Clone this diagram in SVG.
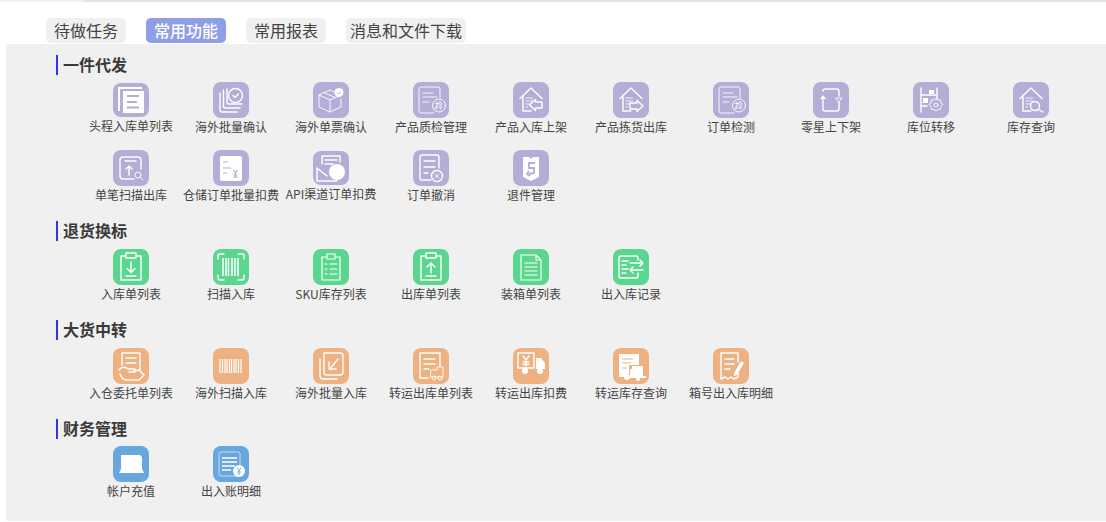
<svg xmlns="http://www.w3.org/2000/svg" width="1106" height="522" viewBox="0 0 1106 522">
<style>
text{font-family:"Noto Sans CJK SC","Noto Sans",sans-serif;fill:#444}
.l{font-size:12px;text-anchor:middle}
.h{font-size:16px;font-weight:700;fill:#3a3a3a}
.tb{font-size:16px;text-anchor:middle}
.tab{fill:#f0f0f0}
.bar{fill:#3333ee}
.pu{fill:#b2aed6}.gr{fill:#5bd68f}.or{fill:#eeb182}.bl{fill:#68a7de}
.s{fill:none;stroke:#fff;stroke-width:1.4;stroke-linecap:round;stroke-linejoin:round}
.t{stroke-width:.9}
.f{fill:#fff}
</style>
<defs>
<rect id="b" width="36" height="36" rx="8"/>
<g id="house" class="s"><path d="M7 16.500L18 6L29 16.500M10 14V29H18"/><path class="t" d="M13 16h1.500M15.500 16h1.500M18 16h1.500M13 19h1.500M15.500 19h1.500M18 19h1.500M13 22h1.500M15.500 22h1.500M13 25h1.500"/></g>
<g id="jian" class="s t"><circle cx="26" cy="23.500" r="6.500"/><path d="M22.500 21.500h3M24 20v7M23 25l-1 2M27 20l-1.500 2M27 20l2 2M26.500 23h2M26 25h3M27 26.500h1"/></g>
</defs>
<rect x="0" y="0" width="1106" height="2" fill="#e4e4e4"/>
<rect x="0" y="0" width="83" height="2" fill="#f0f0f0"/>
<rect x="6" y="44" width="1100" height="477" fill="#f0f0f0"/>
<g id="tabs">
<g id="tab-todo"><rect class="tab" x="46" y="18" width="80" height="25" rx="5"/><text class="tb" x="86" y="37">待做任务</text></g>
<g id="tab-common"><rect x="146" y="18" width="80" height="25" rx="5" fill="#8f9fe6"/><text class="tb" x="186" y="37" style="fill:#fff;font-weight:500">常用功能</text></g>
<g id="tab-report"><rect class="tab" x="246" y="18" width="80" height="25" rx="5"/><text class="tb" x="286" y="37">常用报表</text></g>
<g id="tab-msg"><rect class="tab" x="346" y="18" width="120" height="25" rx="5"/><text class="tb" x="406" y="37">消息和文件下载</text></g>
</g>
<g id="section-titles">
<g id="title-1"><rect class="bar" x="56" y="55" width="2" height="20"/><text class="h" x="63" y="71">一件代发</text></g>
<g id="title-2"><rect class="bar" x="56" y="221" width="2" height="20"/><text class="h" x="63" y="237">退货换标</text></g>
<g id="title-3"><rect class="bar" x="56" y="320" width="2" height="20"/><text class="h" x="63" y="336">大货中转</text></g>
<g id="title-4"><rect class="bar" x="56" y="419" width="2" height="20"/><text class="h" x="63" y="435">财务管理</text></g>
</g>
<g id="connectors"></g>

<g id="n1" transform="translate(113,82)"><rect class="pu" y="1" width="36" height="34" rx="8"/>
<path class="f" d="M5 5H29V7H7V29H5ZM10 9H31V31H10Z"/><path d="M14 14H26M14 20H24M14 25.500H26" stroke="#b2aed6" stroke-width="2" fill="none"/>
<text class="l" x="18" y="49">头程入库单列表</text></g>
<g id="n2" transform="translate(213,82)"><use href="#b" class="pu"/>
<g class="s"><path d="M7 11V28a2 2 0 0 0 2 2H24"/><path d="M10.500 8V24a2 2 0 0 0 2 2H27"/><circle cx="22.500" cy="13.500" r="7"/><path d="M14 7V20a2 2 0 0 0 2 2H29"/><path d="M20 13.500l2 2 3.500-3.500"/></g>
<text class="l" x="18" y="50">海外批量确认</text></g>
<g id="n3" transform="translate(313,82)"><use href="#b" class="pu"/>
<g class="s t"><path d="M6 13L17 8L23 11M6 13V25L17 30L28 25V17M6 13L17 18L28 13M17 18V30M11 10.500L22 15.500"/></g><circle class="f" cx="26" cy="10.500" r="4.500"/><path d="M24 10.500l1.500 1.500 2.500-2.500" fill="none" stroke="#b2aed6" stroke-width="1"/>
<text class="l" x="18" y="50">海外单票确认</text></g>
<g id="n4" transform="translate(413,82)"><use href="#b" class="pu"/>
<g class="s t"><path d="M21 31H8a2 2 0 0 1-2-2V7a2 2 0 0 1 2-2H25a2 2 0 0 1 2 2V16M10 11H20M10 15H24M10 20H16"/></g><use href="#jian"/>
<text class="l" x="18" y="50">产品质检管理</text></g>
<g id="n5" transform="translate(513,82)"><use href="#b" class="pu"/><use href="#house"/>
<path class="s" d="M29 20H22.500V17.500L16.500 23L22.500 28.500V26H29Z"/>
<text class="l" x="18" y="50">产品入库上架</text></g>
<g id="n6" transform="translate(613,82)"><use href="#b" class="pu"/><use href="#house"/>
<path class="s" d="M17 21H24V18.500L30 24L24 29.500V27H17Z"/>
<text class="l" x="18" y="50">产品拣货出库</text></g>
<g id="n7" transform="translate(713,82)"><use href="#b" class="pu"/>
<g class="s t"><path d="M21 31H8a2 2 0 0 1-2-2V7a2 2 0 0 1 2-2H25a2 2 0 0 1 2 2V16M10 11H20M10 15H24M10 20H16"/></g><use href="#jian"/>
<text class="l" x="18" y="50">订单检测</text></g>
<g id="n8" transform="translate(813,82)"><use href="#b" class="pu"/>
<g class="s"><path d="M10 9a2 2 0 0 1 2-2H24a2 2 0 0 1 2 2v5"/><path d="M26 20v7a2 2 0 0 1-2 2H12a2 2 0 0 1-2-2V17"/></g><path class="f" d="M7 17l3-4 3 4Z"/><path class="s t" d="M23 16h6l-3 4Z"/>
<text class="l" x="18" y="50">零星上下架</text></g>
<g id="n9" transform="translate(913,82)"><use href="#b" class="pu"/>
<g class="s"><path d="M8 6V30M24 6V17M8 13H24M8 24H14"/></g><rect class="f" x="16" y="8" width="5" height="4"/><rect class="f" x="10" y="16" width="5" height="5"/>
<g class="s t"><circle cx="23" cy="23" r="2"/><path d="M23 16.500l2 1.500h2.500l.5 3 2 1.500-2 2-.5 3h-2.500l-2 1.500-2-1.500h-2.500l-.5-3-2-2 2-1.500.5-3h2.500Z"/></g>
<text class="l" x="18" y="50">库位转移</text></g>
<g id="n10" transform="translate(1013,82)"><use href="#b" class="pu"/><use href="#house"/>
<g class="s"><circle cx="22" cy="24" r="4.500"/><path d="M25.500 27.500L30 30"/></g>
<text class="l" x="18" y="50">库存查询</text></g>

<g id="n11" transform="translate(113,150)"><use href="#b" class="pu"/>
<g class="s"><path d="M21 29H10a3 3 0 0 1-3-3V10a3 3 0 0 1 3-3H25a3 3 0 0 1 3 3V19M12 11H23M16 25V16M13 19l3-3 3 3"/><circle cx="25" cy="25" r="3" class="t"/><path class="t" d="M27.500 27.500L30 30"/></g>
<text class="l" x="18" y="50">单笔扫描出库</text></g>
<g id="n12" transform="translate(213,150)"><use href="#b" class="pu"/>
<rect class="f" x="7" y="6" width="22" height="25" rx="2"/><path d="M10 12H15M10 18H18M10 23H14M20.500 20l2 3 2-3M22.500 23V28M20.500 25H24.500M20.500 27H24.500" fill="none" stroke="#b2aed6" stroke-width="1.200"/>
<text class="l" x="18" y="50">仓储订单批量扣费</text></g>
<g id="n13" transform="translate(313,151)"><rect class="pu" width="36" height="34" rx="8"/>
<path class="s" d="M4 17V30H24M4 17L14 25M9 13V5H27V11M12 9H24M12 13H20"/><circle class="f" cx="24" cy="21" r="8"/>
<text class="l" x="18" y="48">API渠道订单扣费</text></g>
<g id="n14" transform="translate(413,150)"><use href="#b" class="pu"/>
<g class="s"><path d="M18 30H9a2 2 0 0 1-2-2V7a2 2 0 0 1 2-2H24a2 2 0 0 1 2 2V18M11 11H22M11 17H22M11 23H15"/><circle cx="24" cy="26" r="5.500"/><path class="t" d="M22 24l4 4M26 24l-4 4"/></g>
<text class="l" x="18" y="50">订单撤消</text></g>
<g id="n15" transform="translate(513,150)"><use href="#b" class="pu"/>
<path class="f" d="M10 7H16L18 9L20 7H26V27L18 31L10 27Z"/><path d="M22 13H16V18H21V23L16 24M16 21L14 24L17 26" fill="none" stroke="#b2aed6" stroke-width="1.800"/>
<text class="l" x="18" y="50">退件管理</text></g>

<g id="n16" transform="translate(113,249)"><use href="#b" class="gr"/>
<g class="s"><path d="M12 7H8V31H28V7H24M13 4H23V9H13ZM18 13V23M14 19.500L18 23.500L22 19.500M13 27H23"/></g>
<text class="l" x="18" y="50">入库单列表</text></g>
<g id="n17" transform="translate(213,249)"><use href="#b" class="gr"/>
<g class="s"><path d="M5 10V7a2 2 0 0 1 2-2H11M25 5H29a2 2 0 0 1 2 2V10M31 26V29a2 2 0 0 1-2 2H25M11 31H7a2 2 0 0 1-2-2V26"/></g><path d="M10 9V27M13 9V27M15.500 9V27M19 9V27M22 9V27M25 9V27" stroke="#fff" stroke-width="1.500"/>
<text class="l" x="18" y="50">扫描入库</text></g>
<g id="n18" transform="translate(313,249)"><use href="#b" class="gr"/>
<g class="s t"><path d="M14 8H9V31H27V8H22M14 5H22V10H14ZM12 15H14M17 15H24M12 20H14M17 20H24M12 25H14M17 25H24" stroke-width="1.200"/></g>
<text class="l" x="18" y="50">SKU库存列表</text></g>
<g id="n19" transform="translate(413,249)"><use href="#b" class="gr"/>
<g class="s"><path d="M12 7H8V31H28V7H24M13 4H23V9H13ZM18 24V14M14 18L18 14L22 18M13 27H23"/></g>
<text class="l" x="18" y="50">出库单列表</text></g>
<g id="n20" transform="translate(513,249)"><use href="#b" class="gr"/>
<g class="s t"><path d="M8 6H23L28 11V31H8ZM23 6V11H28M12 14H24M12 18H24M12 22H24M12 26H24" stroke-width="1.100"/></g>
<text class="l" x="18" y="50">装箱单列表</text></g>
<g id="n21" transform="translate(613,249)"><use href="#b" class="gr"/>
<g class="s"><path d="M25 11V9a2 2 0 0 0-2-2H8a2 2 0 0 0-2 2V27a2 2 0 0 0 2 2H23a2 2 0 0 0 2-2V24M9 12H15M9 16H13M9 20H15M9 24H13M17 14H30L27 11M30 14L27 17M30 21H17L20 18M17 21L20 24"/></g>
<text class="l" x="18" y="50">出入库记录</text></g>

<g id="n22" transform="translate(113,348)"><use href="#b" class="or"/>
<g class="s"><path d="M9 17V5H27V22M13 10H23M13 15H23"/><path d="M6 22C9 18 13 19 15 21H21C23 21 23 24 21 24H16M21 23L26 22L31 27L26 32H14C10 32 8 29 7 26"/></g>
<text class="l" x="18" y="50">入仓委托单列表</text></g>
<g id="n23" transform="translate(213,348)"><use href="#b" class="or"/>
<path d="M7 11V25M9.500 11V25M12 11V25M14 11V25M16.500 11V25M18.500 11V25M21 11V25M23 11V25M25.500 11V25M28 11V25" stroke="#fff" stroke-width="1.200"/>
<text class="l" x="18" y="50">海外扫描入库</text></g>
<g id="n24" transform="translate(313,348)"><use href="#b" class="or"/>
<g class="s"><path d="M7 11V28a3 3 0 0 0 3 3H24"/><path d="M11 5H27a3 3 0 0 1 3 3V24a3 3 0 0 1-3 3H14a3 3 0 0 1-3-3Z"/><path d="M25 11L17 21M16 14V21H23"/></g>
<text class="l" x="18" y="50">海外批量入库</text></g>
<g id="n25" transform="translate(413,348)"><use href="#b" class="or"/>
<g class="s"><path d="M15 30H7V5H27V18M11 11H22M11 16H22M11 21H16"/><path class="t" d="M18 22H24V19H30V29H18Z"/><circle class="t" cx="21" cy="30" r="2"/><circle class="t" cx="27" cy="30" r="2"/></g>
<text class="l" x="18" y="50">转运出库单列表</text></g>
<g id="n26" transform="translate(513,348)"><use href="#b" class="or"/>
<g class="s"><path d="M5 5H21V20H5ZM10 8l3 4 3-4M13 12V18M10 14H16M10 16.500H16"/></g><path class="f" d="M23 10H28L32 15V21H23Z"/><circle class="f" cx="12" cy="23" r="3"/><circle class="f" cx="27" cy="23" r="3"/>
<text class="l" x="18" y="50">转运出库扣费</text></g>
<g id="n27" transform="translate(613,348)"><use href="#b" class="or"/>
<path class="f" d="M6 6H26V17H16V29H6Z"/><path d="M9 11H20M9 15H18M9 20H14" fill="none" stroke="#eeb182" stroke-width="1.200"/><path class="f" d="M19 18H30V28H33V30H17V21H19Z"/><circle class="f" cx="14" cy="29" r="3"/><circle class="f" cx="25" cy="31" r="2"/>
<text class="l" x="18" y="50">转运库存查询</text></g>
<g id="n28" transform="translate(713,348)"><use href="#b" class="or"/>
<g class="s"><path d="M8 31V5H25V14M8 31L12 29L15 31L18 29L21 31L25 29V24M12 11H21M12 16H21M12 21H17"/></g><path class="f" d="M28 13L31 15L24 27L21 28L21 25Z"/>
<text class="l" x="18" y="50">箱号出入库明细</text></g>

<g id="n29" transform="translate(113,446)"><use href="#b" class="bl"/>
<path class="f" d="M8 9H27L29 11V23L31 27H6L8 23Z"/>
<text class="l" x="18" y="50">帐户充值</text></g>
<g id="n30" transform="translate(213,446)"><use href="#b" class="bl"/>
<rect x="6" y="6" width="21" height="24" rx="2" fill="none" stroke="#fff" stroke-opacity=".6"/><path d="M9 12H24M9 16H24M9 20H22M9 24H18" stroke="#fff" stroke-width="1.700"/><circle class="f" cx="26" cy="25" r="6"/><path d="M24 22l2 2.500 2-2.500M26 24.500V29M24 26H28" fill="none" stroke="#68a7de" stroke-width="1"/>
<text class="l" x="18" y="50">出入账明细</text></g>
</svg>
